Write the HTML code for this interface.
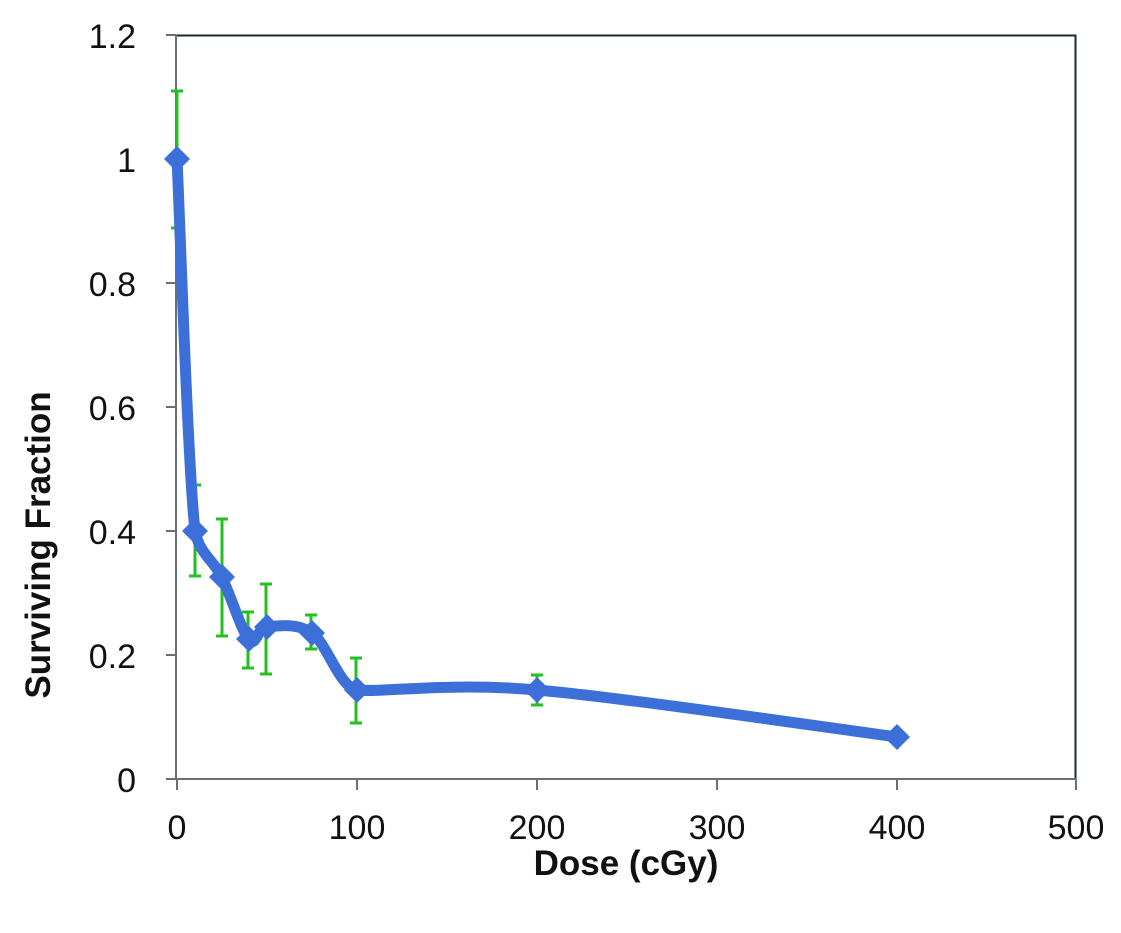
<!DOCTYPE html>
<html><head><style>body{margin:0;background:#fff}</style></head><body>
<svg width="1121" height="928" xmlns="http://www.w3.org/2000/svg" font-family="Liberation Sans, sans-serif">
<rect width="1121" height="928" fill="#fff"/>
<path d="M176 35.5H1075.5V779" fill="none" stroke="#1e2a2a" stroke-width="2"/>
<g stroke="#6a7070" stroke-width="2">
<line x1="176" y1="35" x2="176" y2="780"/>
<line x1="176" y1="779" x2="1076" y2="779"/>
<line x1="166" y1="35" x2="176" y2="35"/><line x1="166" y1="159" x2="176" y2="159"/>
<line x1="166" y1="283" x2="176" y2="283"/><line x1="166" y1="407" x2="176" y2="407"/>
<line x1="166" y1="531" x2="176" y2="531"/><line x1="166" y1="655" x2="176" y2="655"/>
<line x1="166" y1="779" x2="176" y2="779"/>
<line x1="177" y1="779" x2="177" y2="790"/><line x1="357" y1="779" x2="357" y2="790"/>
<line x1="537" y1="779" x2="537" y2="790"/><line x1="717" y1="779" x2="717" y2="790"/>
<line x1="897" y1="779" x2="897" y2="790"/><line x1="1076" y1="779" x2="1076" y2="790"/>
</g>
<g font-size="34" fill="#111" text-anchor="end">
<text x="136" y="48">1.2</text><text x="136" y="172">1</text><text x="136" y="296">0.8</text>
<text x="136" y="420">0.6</text><text x="136" y="544">0.4</text><text x="136" y="668">0.2</text><text x="136" y="792">0</text>
</g>
<g font-size="34" fill="#111" text-anchor="middle">
<text x="177" y="839">0</text><text x="357" y="839">100</text><text x="537" y="839">200</text>
<text x="717" y="839">300</text><text x="897" y="839">400</text><text x="1076" y="839">500</text>
</g>
<text x="626" y="875" font-size="35" font-weight="bold" text-anchor="middle" fill="#111">Dose (cGy)</text>
<text transform="translate(50,545) rotate(-90)" font-size="35" font-weight="bold" text-anchor="middle" fill="#111">Surviving Fraction</text>
<g stroke="#22c020" stroke-width="3">
<path d="M177 91V228M171 91h12M171 228h12"/>
<path d="M195 485V576M189 485h12M189 576h12"/>
<path d="M222 519V636M216 519h12M216 636h12"/>
<path d="M248 612V668M242 612h12M242 668h12"/>
<path d="M266 584V674M260 584h12M260 674h12"/>
<path d="M311 615V649M305 615h12M305 649h12"/>
<path d="M356 658V723M350 658h12M350 723h12"/>
<path d="M537 675V705M531 675h12M531 705h12"/>
</g>
<path d="M177 159C180 221 187.5 461 195 531C200 555 213 559 222 577.5C231 596 241.5 631 249 639.5C256.5 648 256.5 628 267 627C277.5 626 297 622.5 312 633C327 643.5 340 688 357 690C380 693 447 682 537 690C627 698 837 729 897 737" fill="none" stroke="#3d6fd8" stroke-width="11" stroke-linejoin="round"/>
<g fill="#3d6fd8">
<path d="M177 146l13 13-13 13-13-13z"/><path d="M195 518l13 13-13 13-13-13z"/>
<path d="M222 564l13 13-13 13-13-13z"/><path d="M249 626l13 13-13 13-13-13z"/>
<path d="M267 614l13 13-13 13-13-13z"/><path d="M312 620l13 13-13 13-13-13z"/>
<path d="M357 677l13 13-13 13-13-13z"/><path d="M537 677l13 13-13 13-13-13z"/>
<path d="M897 724l13 13-13 13-13-13z"/>
</g>
</svg>
</body></html>
